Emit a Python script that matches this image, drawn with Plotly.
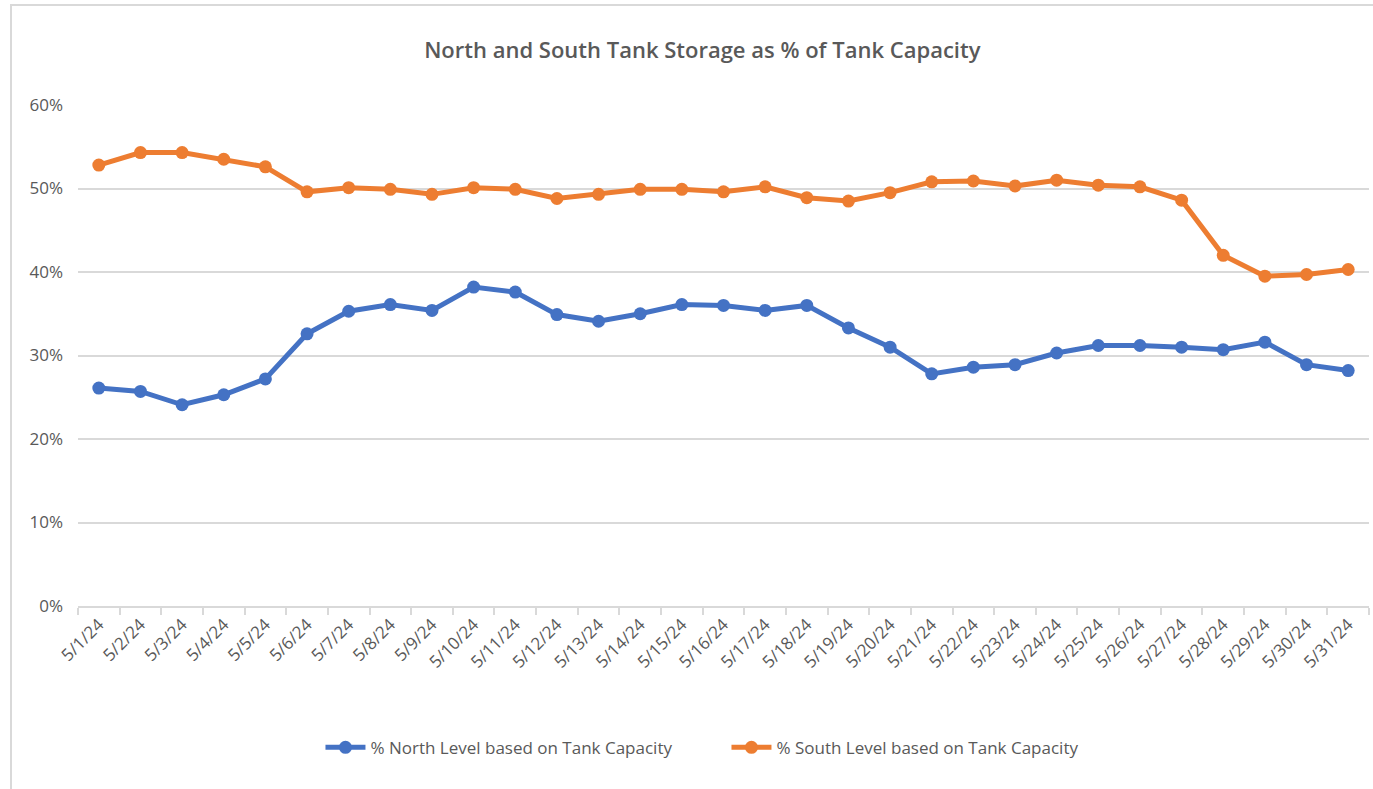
import plotly.graph_objects as go

dates = [f"5/{d}/24" for d in range(1, 32)]

north = [26.1, 25.7, 24.1, 25.3, 27.2, 32.6, 35.3, 36.1, 35.4, 38.2,
         37.6, 34.9, 34.1, 35.0, 36.1, 36.0, 35.4, 36.0, 33.3, 31.0,
         27.8, 28.6, 28.9, 30.3, 31.2, 31.2, 31.0, 30.7, 31.6, 28.9, 28.2]

south = [52.8, 54.3, 54.3, 53.5, 52.6, 49.6, 50.1, 49.9, 49.3, 50.1,
         49.9, 48.8, 49.3, 49.9, 49.9, 49.6, 50.2, 48.9, 48.5, 49.5,
         50.8, 50.9, 50.3, 51.0, 50.4, 50.2, 48.6, 42.0, 39.5, 39.7, 40.3]

north_name = "% North Level based on Tank Capacity"
south_name = "% South Level based on Tank Capacity"
title_text = "North and South Tank Storage as % of Tank Capacity"

FONT = "Open Sans, Noto Sans, sans-serif"
GRAY = "#595959"
GRID = "#d9d9d9"

fig = go.Figure()
fig.add_trace(go.Scatter(
    x=dates, y=[v / 100 for v in north], name=north_name,
    mode="lines+markers",
    line=dict(color="#4472C4", width=5),
    marker=dict(color="#4472C4", size=13),
))
fig.add_trace(go.Scatter(
    x=dates, y=[v / 100 for v in south], name=south_name,
    mode="lines+markers",
    line=dict(color="#ED7D31", width=5),
    marker=dict(color="#ED7D31", size=13),
))

fig.update_layout(
    width=1373, height=789,
    margin=dict(l=78, r=4, t=105, b=183, autoexpand=False),
    paper_bgcolor="white", plot_bgcolor="white",
    font=dict(family=FONT, color=GRAY),
    title=dict(text=title_text, x=0.5115, xanchor="center",
               y=1 - 50 / 789, yanchor="middle", yref="container",
               font=dict(size=22, color=GRAY, family=FONT, weight=600)),
    legend=dict(orientation="h", x=0.5023, xanchor="center",
                y=-0.283, yanchor="middle",
                font=dict(size=17, color=GRAY, family=FONT),
                entrywidth=351, entrywidthmode="pixels",
                itemwidth=40, tracegroupgap=0),
    showlegend=True,
    xaxis=dict(
        type="category", tickangle=-45, automargin=False,
        range=[-0.5, len(dates) - 0.5],
        tickfont=dict(size=17, color=GRAY, family=FONT),
        showline=True, linecolor=GRID, linewidth=2,
        ticks="outside", tickson="boundaries", ticklen=7,
        tickcolor=GRID, tickwidth=2, showgrid=False, zeroline=False,
    ),
    yaxis=dict(
        range=[0, 0.6], dtick=0.1, tickformat=".0%", automargin=False,
        tickfont=dict(size=17, color=GRAY, family=FONT),
        showgrid=True, gridcolor=GRID, gridwidth=2,
        zeroline=False, showline=False, ticks="", ticklabelstandoff=14,
    ),
    shapes=[dict(type="rect", xref="paper", yref="paper",
                 x0=(11 - 78) / 1291, x1=(1380 - 78) / 1291,
                 y0=(606 - 800) / 501, y1=(606 - 5) / 501,
                 line=dict(color="#d9d9d9", width=2), layer="below")],
)

fig.write_html(
    "out.html",
    config={"displayModeBar": False},
    post_script="document.body.style.margin='0';document.body.style.overflow='hidden';",
)
